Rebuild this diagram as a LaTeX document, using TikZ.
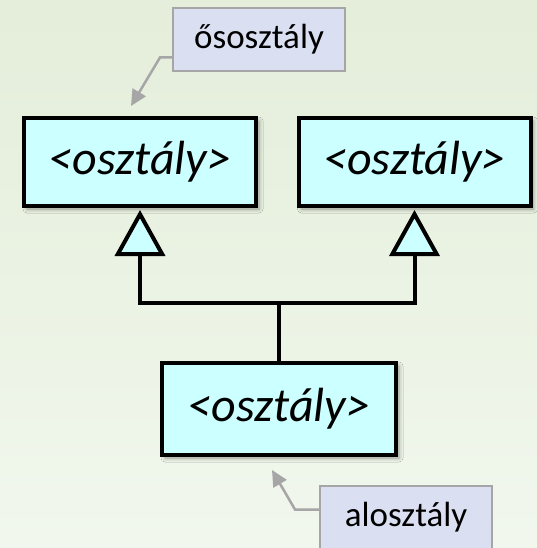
\documentclass[tikz,border=0pt]{standalone}
\usepackage{fontspec}
\setmainfont{Carlito}
\usetikzlibrary{positioning,arrows.meta,shadows.blur}
\definecolor{bgtop}{RGB}{228,238,218}
\definecolor{bgbottom}{RGB}{241,247,237}
\definecolor{classfill}{HTML}{CCFFFF}
\definecolor{notefill}{HTML}{DAE0F2}
\definecolor{notegray}{HTML}{A6A6A6}

\begin{document}
\begin{tikzpicture}[x=1pt, y=-1pt,
      class/.style={rectangle, draw=black, line width=4pt, fill=classfill,
        minimum width=232pt, minimum height=88pt, inner sep=0pt,
        font=\fontsize{48}{56}\selectfont\itshape,
        blur shadow={shadow xshift=3pt, shadow yshift=-3pt, shadow blur radius=4pt, shadow opacity=40}},
      note/.style={rectangle, draw=notegray, line width=2pt, fill=notefill,
        minimum width=172pt, minimum height=63pt, inner sep=0pt, font=\fontsize{35}{40}\selectfont},
      inherit/.style={line width=4pt, -{Triangle[open, fill=classfill, length=46pt, width=50pt, line join=miter]}},
      pointer/.style={draw=notegray, line width=2.5pt, -{Triangle[length=16pt, width=15pt]}}
      ]
      \clip (0,0) rectangle (537,548);
      \shade[top color=bgtop, bottom color=bgbottom] (0,0) rectangle (537,548);
      \node[class] (BASE1) at (140,162) {<osztály>};
      \node[class] (BASE2) at (414.5,162) {<osztály>};
      \node[class, minimum width=234pt, minimum height=92pt] (SUB) at (279,409) {<osztály>};
      \node[note] (SUPNOTE) at (259,39.5) {ősosztály};
      \node[note] (SUBNOTE) at (406,517.5) {alosztály};
      \coordinate (JOIN) at (279,303);
      \coordinate (SUPTIP) at (131,106);
      \coordinate (SUBTIP) at (272,470);
      \draw[line width=4pt] (SUB.north) -- (JOIN);
      \draw[inherit] (JOIN) -| ([yshift=-2pt]BASE1.south);
      \draw[inherit] (JOIN) -| ([yshift=-2pt]BASE2.south);
      \draw[pointer] ([yshift=-18pt]SUPNOTE.west) -- ++(-12,0) -- (SUPTIP);
      \draw[pointer] ([yshift=8pt]SUBNOTE.west) -- ++(-24,0) -- (SUBTIP);
    \end{tikzpicture}
\end{document}
